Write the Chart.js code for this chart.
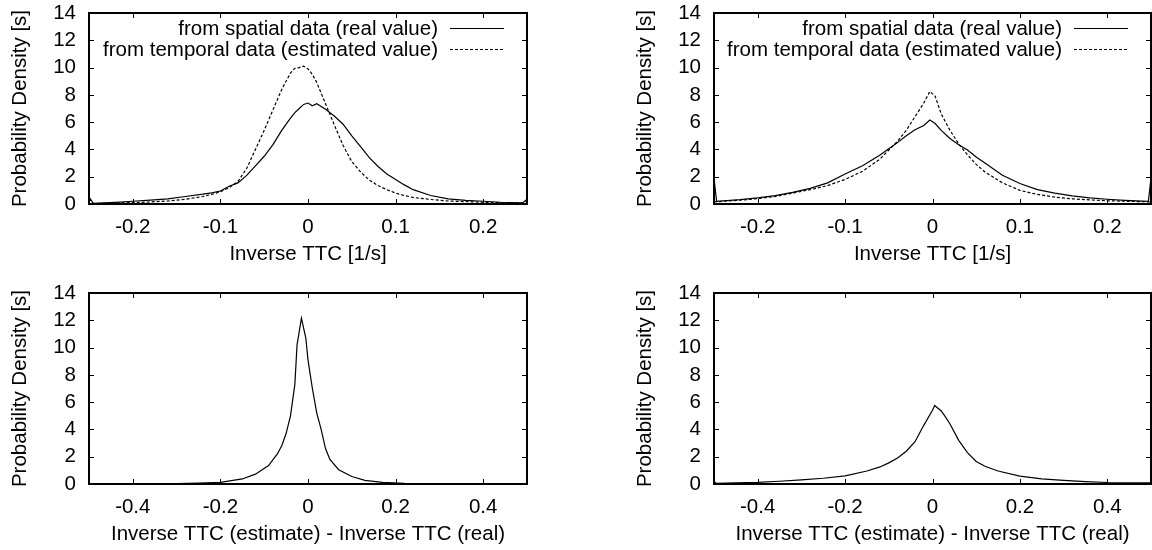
<!DOCTYPE html>
<html>
<head>
<meta charset="utf-8">
<script src="https://cdn.jsdelivr.net/npm/chart.js@4/dist/chart.umd.min.js"></script>
<style>
  body { margin: 0; background: #fff; }
  #wrap { position: relative; width: 1152px; height: 550px; }
  canvas { position: absolute; }
</style>
</head>
<body>
<div id="wrap">
  <canvas id="c1" width="576" height="270" style="left:0;top:0"></canvas>
  <canvas id="c2" width="576" height="270" style="left:576px;top:0"></canvas>
  <canvas id="c3" width="576" height="270" style="left:0;top:280px"></canvas>
  <canvas id="c4" width="576" height="270" style="left:576px;top:280px"></canvas>
</div>
<script>
// top left: inverse TTC distributions
const tlX = [-0.25, -0.245, -0.22, -0.2, -0.18, -0.16, -0.14, -0.12, -0.11, -0.1, -0.09, -0.08, -0.07, -0.06, -0.05, -0.04, -0.03, -0.02, -0.015, -0.01, -0.005, 0, 0.005, 0.01, 0.02, 0.03, 0.04, 0.05, 0.06, 0.07, 0.08, 0.09, 0.1, 0.11, 0.12, 0.14, 0.16, 0.18, 0.2, 0.22, 0.245, 0.25];
const tlSpatial = [0.5, 0.05, 0.12, 0.2, 0.28, 0.38, 0.55, 0.72, 0.82, 0.95, 1.3, 1.55, 2.1, 2.8, 3.5, 4.35, 5.4, 6.3, 6.7, 7.0, 7.3, 7.4, 7.2, 7.35, 6.95, 6.45, 5.85, 5.0, 4.2, 3.4, 2.75, 2.2, 1.8, 1.4, 1.05, 0.62, 0.38, 0.27, 0.2, 0.13, 0.08, 0.35];
const tlTemporal = [0.4, 0.03, 0.07, 0.1, 0.15, 0.22, 0.35, 0.55, 0.7, 0.9, 1.2, 1.65, 2.6, 4.0, 5.4, 6.9, 8.4, 9.6, 9.95, 10.0, 10.1, 9.9, 9.5, 8.9, 7.35, 5.8, 4.3, 3.1, 2.35, 1.75, 1.35, 1.05, 0.8, 0.62, 0.48, 0.33, 0.22, 0.17, 0.13, 0.1, 0.08, 0.2];

// top right
const trX = [-0.25, -0.247, -0.22, -0.2, -0.18, -0.16, -0.14, -0.12, -0.1, -0.08, -0.06, -0.04, -0.03, -0.02, -0.01, -0.003, 0.003, 0.01, 0.02, 0.03, 0.04, 0.05, 0.06, 0.08, 0.1, 0.12, 0.14, 0.16, 0.18, 0.2, 0.22, 0.247, 0.25];
const trSpatial = [1.9, 0.2, 0.32, 0.45, 0.62, 0.85, 1.15, 1.55, 2.2, 2.8, 3.6, 4.5, 5.0, 5.45, 5.75, 6.15, 5.9, 5.4, 4.8, 4.35, 3.95, 3.45, 3.0, 2.1, 1.5, 1.05, 0.8, 0.6, 0.45, 0.35, 0.27, 0.2, 1.9];
const trTemporal = [0.17, 0.17, 0.28, 0.4, 0.55, 0.8, 1.05, 1.35, 1.8, 2.4, 3.3, 4.6, 5.4, 6.4, 7.4, 8.25, 7.9, 6.6, 5.4, 4.4, 3.6, 2.9, 2.35, 1.55, 1.0, 0.7, 0.5, 0.38, 0.3, 0.24, 0.2, 0.16, 0.16];

// bottom left: estimate - real
const blX = [-0.5, -0.4, -0.3, -0.25, -0.2, -0.15, -0.12, -0.09, -0.07, -0.06, -0.05, -0.04, -0.03, -0.025, -0.015, -0.005, 0, 0.01, 0.02, 0.03, 0.04, 0.05, 0.07, 0.1, 0.13, 0.17, 0.22, 0.3, 0.4, 0.5];
const blDiff = [0, 0.01, 0.03, 0.06, 0.12, 0.37, 0.72, 1.35, 2.2, 2.8, 3.7, 5.0, 7.3, 10.2, 12.15, 10.7, 9.1, 7.0, 5.2, 4.0, 2.6, 1.8, 1.05, 0.55, 0.27, 0.12, 0.05, 0.02, 0.01, 0];

// bottom right
const brX = [-0.5, -0.495, -0.45, -0.4, -0.35, -0.3, -0.25, -0.2, -0.15, -0.12, -0.1, -0.08, -0.06, -0.04, -0.02, 0, 0.005, 0.02, 0.03, 0.04, 0.06, 0.08, 0.1, 0.12, 0.15, 0.2, 0.25, 0.3, 0.35, 0.4, 0.45, 0.5];
const brDiff = [0.2, 0.05, 0.08, 0.12, 0.2, 0.3, 0.42, 0.6, 0.95, 1.25, 1.55, 1.9, 2.4, 3.1, 4.3, 5.4, 5.75, 5.35, 4.9, 4.4, 3.2, 2.3, 1.65, 1.3, 0.95, 0.58, 0.38, 0.26, 0.17, 0.11, 0.09, 0.08];

// tick labels
const topTicks = [-0.2, -0.1, 0, 0.1, 0.2];
const bottomTicks = [-0.4, -0.2, 0, 0.2, 0.4];
const yTicks = [0, 2, 4, 6, 8, 10, 12, 14];

const yTitle = "Probability Density [s]";
const xTitleTop = "Inverse TTC [1/s]";
const xTitleBottom = "Inverse TTC (estimate) - Inverse TTC (real)";
const labelSpatial = "from spatial data (real value)";
const labelTemporal = "from temporal data (estimated value)";

const FONT = { family: "'Liberation Sans', Arial, sans-serif", size: 20.5 };

function pts(xs, ys) {
    return xs.map((x, i) => ({ x: x, y: ys[i] }));
}

// gnuplot style box with inward ticks on all four sides
const framePlugin = {
    id: "frame",
    afterDraw(chart) {
        const { ctx, chartArea: a, scales } = chart;
        ctx.save();
        ctx.strokeStyle = "#000";
        ctx.lineWidth = 1;
        const t = 5;
        ctx.beginPath();
        scales.x.ticks.forEach((tk) => {
            const px = Math.round(scales.x.getPixelForValue(tk.value)) + 0.5;
            ctx.moveTo(px, a.bottom); ctx.lineTo(px, a.bottom - t);
            ctx.moveTo(px, a.top); ctx.lineTo(px, a.top + t);
        });
        scales.y.ticks.forEach((tk) => {
            const py = Math.round(scales.y.getPixelForValue(tk.value)) + 0.5;
            ctx.moveTo(a.left, py); ctx.lineTo(a.left + t, py);
            ctx.moveTo(a.right, py); ctx.lineTo(a.right - t, py);
        });
        ctx.stroke();
        ctx.lineWidth = 2;
        ctx.strokeRect(a.left, a.top, a.right - a.left, a.bottom - a.top);
        ctx.restore();
    }
};

// legend: text right aligned, then line sample
const keyPlugin = {
    id: "key",
    afterDraw(chart) {
        const sets = chart.data.datasets.filter((d) => d.label);
        if (!sets.length) return;
        const { ctx, chartArea: a } = chart;
        ctx.save();
        ctx.font = FONT.size + "px " + FONT.family;
        ctx.fillStyle = "#000";
        ctx.textAlign = "right";
        ctx.textBaseline = "middle";
        sets.forEach((d, i) => {
            const y = a.top + 15 + i * 21;
            const x2 = a.right - 23;
            const x1 = x2 - 54;
            ctx.fillText(d.label, x1 - 12, y + 1);
            ctx.strokeStyle = d.borderColor;
            ctx.lineWidth = d.borderWidth;
            ctx.setLineDash(d.borderDash || []);
            ctx.beginPath();
            ctx.moveTo(x1, y + 0.5);
            ctx.lineTo(x2, y + 0.5);
            ctx.stroke();
        });
        ctx.restore();
    }
};

function noPad(s) {
    s.paddingTop = 0; s.paddingBottom = 0; s.paddingLeft = 0; s.paddingRight = 0;
}

function makeChart(id, side, xMax, xTicks, datasets, xTitle) {
    const pad = side === "left" ? { left: 0, top: 13, right: 49, bottom: 0 } : { left: 49, top: 13, right: 1, bottom: 0 };
    return new Chart(document.getElementById(id), {
        type: "line",
        data: { datasets: datasets },
        options: {
            responsive: false,
            animation: false,
            layout: { padding: pad },
            plugins: { legend: { display: false }, tooltip: { enabled: false } },
            elements: { point: { radius: 0 }, line: { tension: 0 } },
            scales: {
                x: {
                    type: "linear",
                    min: -xMax,
                    max: xMax,
                    grid: { display: false, drawTicks: false },
                    border: { display: false },
                    afterBuildTicks: (s) => { s.ticks = xTicks.map((v) => ({ value: v })); },
                    ticks: {
                        maxRotation: 0,
                        autoSkip: false,
                        color: "#000",
                        font: FONT,
                        padding: 11,
                        callback: (v) => String(Number(v.toFixed(2)))
                    },
                    title: { display: true, text: xTitle, color: "#000", font: FONT, padding: { top: 0, bottom: 3 } },
                    afterFit: (s) => { s.height = 66; noPad(s); }
                },
                y: {
                    min: 0,
                    max: 14,
                    grid: { display: false, drawTicks: false },
                    border: { display: false },
                    afterBuildTicks: (s) => { s.ticks = yTicks.map((v) => ({ value: v })); },
                    ticks: { autoSkip: false, color: "#000", font: FONT, padding: 13 },
                    title: { display: true, text: yTitle, color: "#000", font: FONT, padding: { top: 8, bottom: 0 } },
                    afterFit: (s) => { s.width = 89; noPad(s); }
                }
            }
        },
        plugins: [framePlugin, keyPlugin]
    });
}

function solid(label, data) {
    return { label: label, data: data, borderColor: "#000", borderWidth: 1.2, fill: false };
}

function dashed(label, data) {
    return { label: label, data: data, borderColor: "#000", borderWidth: 1.2, borderDash: [3, 2], fill: false };
}

makeChart("c1", "left", 0.25, topTicks, [solid(labelSpatial, pts(tlX, tlSpatial)), dashed(labelTemporal, pts(tlX, tlTemporal))], xTitleTop);
makeChart("c2", "right", 0.25, topTicks, [solid(labelSpatial, pts(trX, trSpatial)), dashed(labelTemporal, pts(trX, trTemporal))], xTitleTop);
makeChart("c3", "left", 0.5, bottomTicks, [solid("", pts(blX, blDiff))], xTitleBottom);
makeChart("c4", "right", 0.5, bottomTicks, [solid("", pts(brX, brDiff))], xTitleBottom);
</script>
</body>
</html>
